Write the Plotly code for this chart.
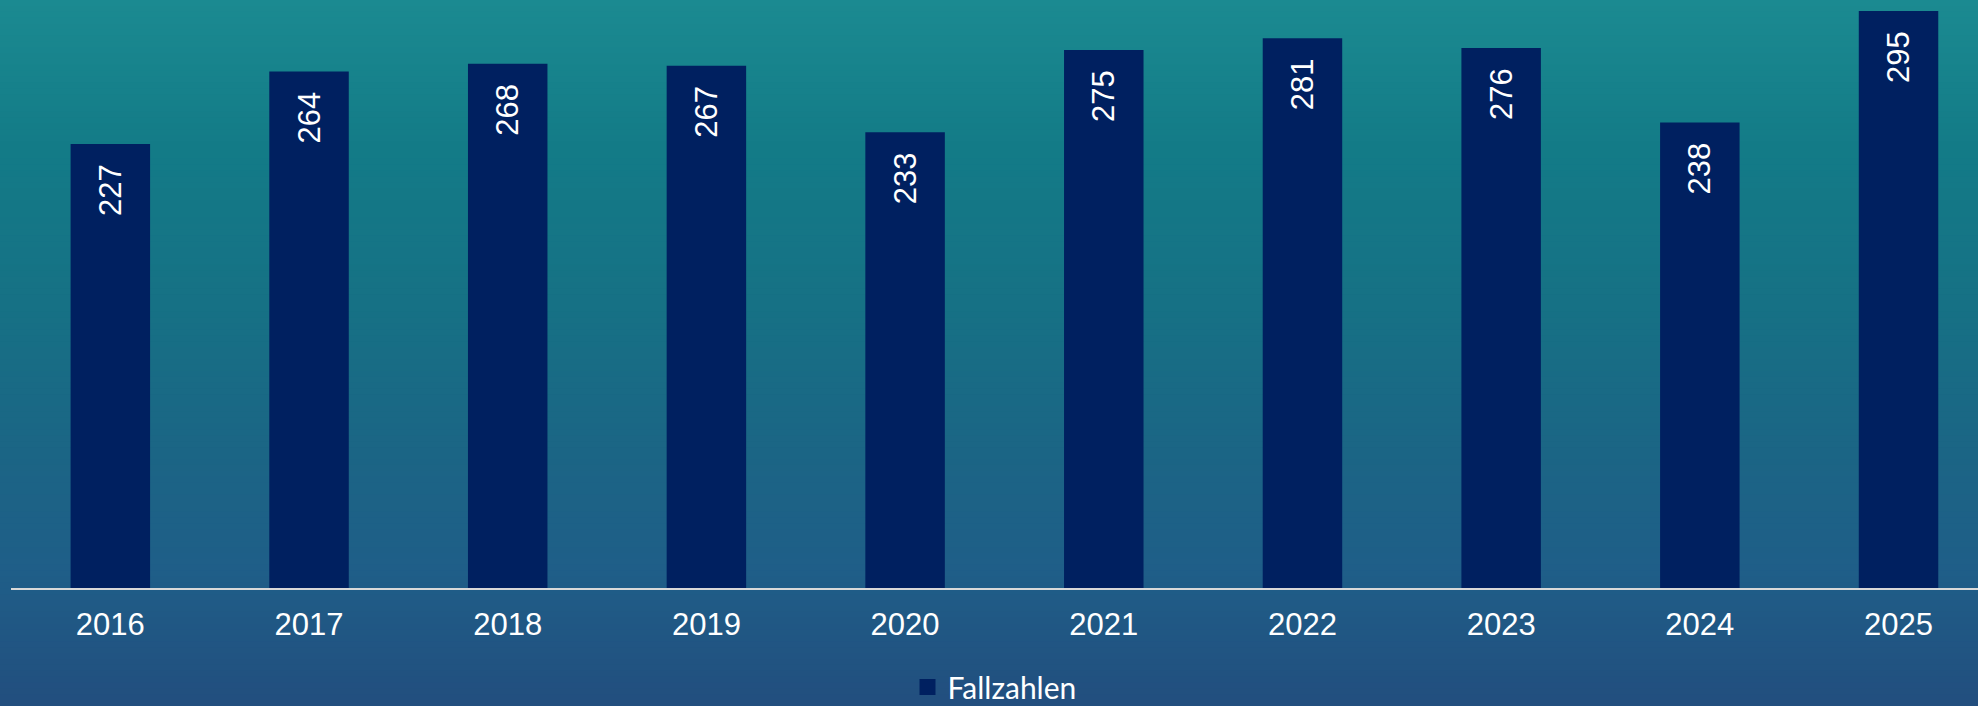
import plotly.graph_objects as go

years = ["2016", "2017", "2018", "2019", "2020", "2021", "2022", "2023", "2024", "2025"]
fallzahlen = [227, 264, 268, 267, 233, 275, 281, 276, 238, 295]

BAR_COLOR = "#002060"

# background gradient stops (fraction from top of figure, rgb)
stops = [(0.0, (27, 138, 145)), (0.21, (19, 123, 135)), (0.43, (22, 113, 133)),
         (0.64, (27, 101, 133)), (0.81, (31, 94, 136)), (1.0, (34, 78, 126))]

W, H = 1978, 706
ml, mr, mt, mb = 11, 0, 0, 118
plot_h = H - mt - mb
plot_w = W - ml - mr


def color_at(f):
    for (f0, c0), (f1, c1) in zip(stops[:-1], stops[1:]):
        if f0 <= f <= f1:
            t = (f - f0) / (f1 - f0) if f1 > f0 else 0
            return "rgb(%d,%d,%d)" % tuple(round(a + (b - a) * t) for a, b in zip(c0, c1))
    return "rgb(%d,%d,%d)" % stops[-1][1]


shapes = []
n = 120
for i in range(n):
    top_px = H * i / n - (1 if i == 0 else 0)
    bot_px = H * (i + 1) / n + (12 if i == n - 1 else 1)
    y1 = 1 - (top_px - mt) / plot_h
    y0 = 1 - (bot_px - mt) / plot_h
    shapes.append(dict(type="rect", xref="paper", yref="paper", layer="below",
                       x0=-ml / plot_w - 0.01, x1=1.01, y0=y0, y1=y1,
                       fillcolor=color_at((i + 0.5) / n), line=dict(width=0)))

fig = go.Figure()
fig.add_trace(go.Bar(
    x=years, y=fallzahlen, name="Fallzahlen",
    marker=dict(color=BAR_COLOR, line=dict(width=0)),
    width=0.4,
    texttemplate="%{y}\u00a0\u00a0",
    textposition="inside", insidetextanchor="end", textangle=-90,
    textfont=dict(family="Liberation Sans, Arial", size=31, color="white"),
    showlegend=False,
))
# legend entry only (no visible mark)
fig.add_trace(go.Scatter(
    x=[None], y=[None], mode="markers", name="Fallzahlen",
    marker=dict(symbol="square", size=16, color=BAR_COLOR),
    showlegend=True,
))

fig.update_layout(
    width=W, height=H,
    margin=dict(l=ml, r=mr, t=mt, b=mb, autoexpand=False),
    paper_bgcolor="rgba(0,0,0,0)",
    plot_bgcolor="rgba(0,0,0,0)",
    shapes=shapes,
    showlegend=True,
    legend=dict(orientation="h", x=0.5, xanchor="center",
                yref="container", y=19 / H, yanchor="middle",
                font=dict(family="Lato, Carlito, sans-serif", size=30, color="white"),
                bgcolor="rgba(0,0,0,0)", itemsizing="trace", itemwidth=30),
    xaxis=dict(type="category", range=[-0.5, 9.4], showgrid=False, zeroline=False,
               showline=True, linecolor="#D9D9D9", linewidth=2,
               ticks="", ticklabelstandoff=8,
               tickfont=dict(family="Liberation Sans, Arial", size=31, color="white")),
    yaxis=dict(range=[0, 300.6], visible=False, showgrid=False, zeroline=False),
    font=dict(family="Liberation Sans, Arial", color="white"),
)

fig.write_html("out.html", config={"displayModeBar": False},
               post_script="document.body.style.margin='0';document.body.style.overflow='hidden';")
